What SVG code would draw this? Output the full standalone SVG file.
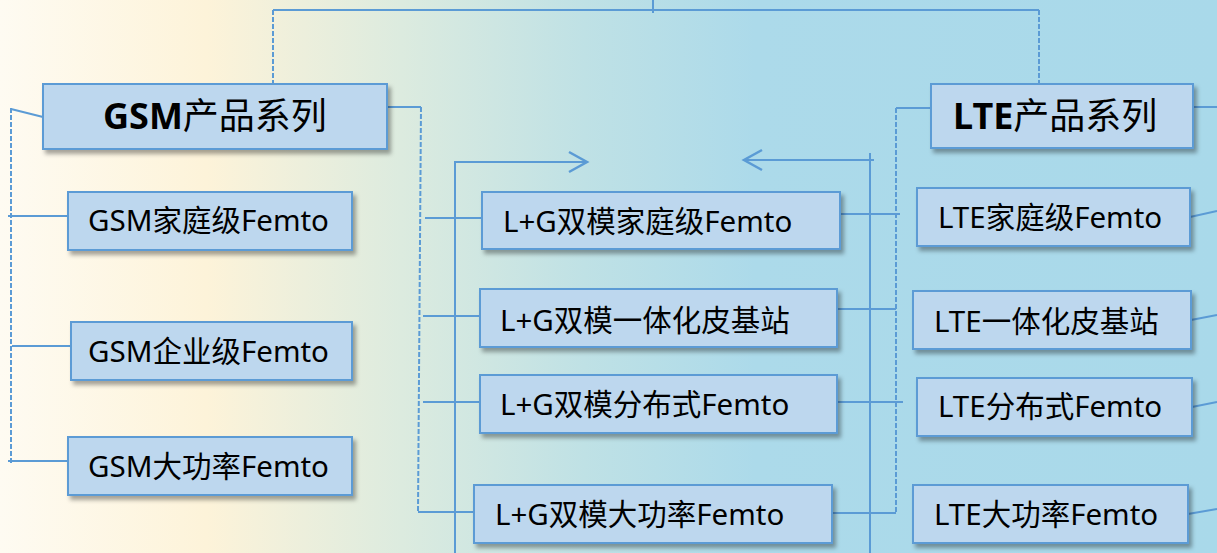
<svg xmlns="http://www.w3.org/2000/svg" width="1217" height="553" viewBox="0 0 1217 553">
<defs>
<linearGradient id="bg" x1="0" y1="0" x2="1" y2="0">
<stop offset="0" stop-color="#fefbf2"/>
<stop offset="0.17" stop-color="#fdf3d9"/>
<stop offset="0.33" stop-color="#dcebdf"/>
<stop offset="0.48" stop-color="#bfe1e5"/>
<stop offset="0.62" stop-color="#acdaea"/>
<stop offset="1" stop-color="#a9d9ea"/>
</linearGradient>
<filter id="sh" x="-10%" y="-20%" width="120%" height="150%">
<feDropShadow dx="3" dy="4" stdDeviation="2" flood-color="#000" flood-opacity="0.35"/>
</filter>
<marker id="chev" markerUnits="userSpaceOnUse" markerWidth="22" markerHeight="24" refX="19" refY="11" orient="auto" overflow="visible">
<path d="M1,1 L19,11 L1,21" fill="none" stroke="#5b9bd5" stroke-width="2.5"/>
</marker>
</defs>
<style>
.box{fill:#bdd7ee;stroke:#5b9bd5;stroke-width:2;filter:url(#sh)}
.ln{fill:none;stroke:#5b9bd5;stroke-width:2}
.dl{fill:none;stroke:#5b9bd5;stroke-width:2;stroke-dasharray:5 2}
.t{font-family:"Noto Sans","Noto Sans CJK SC",sans-serif;font-size:29.5px;fill:#000}
.h{font-family:"Noto Sans","Noto Sans CJK SC",sans-serif;font-size:36px;fill:#000}
.b{font-weight:bold}
</style>
<rect x="0" y="0" width="1217" height="553" fill="url(#bg)"/>
<g id="connectors">
<path class="ln" d="M273,10 H1039"/>
<path class="ln" d="M653,0 V13"/>
<path class="dl" d="M273,10 V84"/>
<path class="dl" d="M1039,10 V84"/>
<path class="ln" d="M43,117 L11,109"/>
<path class="dl" d="M11,108 V465"/>
<path class="ln" d="M8,216 H69"/>
<path class="ln" d="M12,346 H72"/>
<path class="ln" d="M8,461 H69"/>
<path class="ln" d="M387,107 H421"/>
<path class="dl" d="M421,107 L418,512"/>
<path class="ln" d="M418,512 H475"/>
<path class="ln" d="M425,218 H483"/>
<path class="ln" d="M423,316 H481"/>
<path class="ln" d="M423,402 H481"/>
<path class="ln" d="M455,553 V162 H587" marker-end="url(#chev)"/>
<path class="ln" d="M870,553 V153"/>
<path class="ln" d="M874,160 H744" marker-end="url(#chev)"/>
<path class="ln" d="M931,108 H896"/>
<path class="dl" d="M896,108 V513"/>
<path class="ln" d="M840,214 H900"/>
<path class="ln" d="M836,309 H896"/>
<path class="ln" d="M837,402 H903"/>
<path class="ln" d="M832,513 H896"/>
<path class="ln" d="M1193,107 H1217"/>
<path class="ln" d="M1190,217 L1217,211"/>
<path class="ln" d="M1191,320 L1217,315"/>
<path class="ln" d="M1192,407 L1217,402"/>
<path class="ln" d="M1188,514 L1217,509"/>
</g>
<g id="gsm-series">
<rect class="box" x="43" y="84" width="344" height="65"/>
<text class="h" x="103" y="129"><tspan class="b">GSM</tspan>产品系列</text>
</g>
<g id="lte-series">
<rect class="box" x="931" y="84" width="262" height="64"/>
<text class="h" x="953" y="129"><tspan class="b">LTE</tspan>产品系列</text>
</g>
<g id="gsm-home">
<rect class="box" x="68" y="192" width="284" height="58"/>
<text class="t" x="88" y="231">GSM家庭级Femto</text>
</g>
<g id="gsm-enterprise">
<rect class="box" x="71" y="322" width="281" height="58"/>
<text class="t" x="88" y="362">GSM企业级Femto</text>
</g>
<g id="gsm-highpower">
<rect class="box" x="68" y="437" width="284" height="58"/>
<text class="t" x="88" y="477">GSM大功率Femto</text>
</g>
<g id="lg-home">
<rect class="box" x="482" y="192" width="358" height="57"/>
<text class="t" x="503" y="232">L+G双模家庭级Femto</text>
</g>
<g id="lg-integrated">
<rect class="box" x="480" y="289" width="357" height="58"/>
<text class="t" x="500" y="331">L+G双模一体化皮基站</text>
</g>
<g id="lg-distributed">
<rect class="box" x="480" y="375" width="357" height="58"/>
<text class="t" x="500" y="415">L+G双模分布式Femto</text>
</g>
<g id="lg-highpower">
<rect class="box" x="474" y="485" width="358" height="58"/>
<text class="t" x="495" y="525">L+G双模大功率Femto</text>
</g>
<g id="lte-home">
<rect class="box" x="917" y="188" width="273" height="58"/>
<text class="t" x="938" y="228">LTE家庭级Femto</text>
</g>
<g id="lte-integrated">
<rect class="box" x="913" y="291" width="278" height="58"/>
<text class="t" x="934" y="332">LTE一体化皮基站</text>
</g>
<g id="lte-distributed">
<rect class="box" x="917" y="378" width="275" height="58"/>
<text class="t" x="938" y="417">LTE分布式Femto</text>
</g>
<g id="lte-highpower">
<rect class="box" x="913" y="485" width="275" height="58"/>
<text class="t" x="934" y="525">LTE大功率Femto</text>
</g>
</svg>
